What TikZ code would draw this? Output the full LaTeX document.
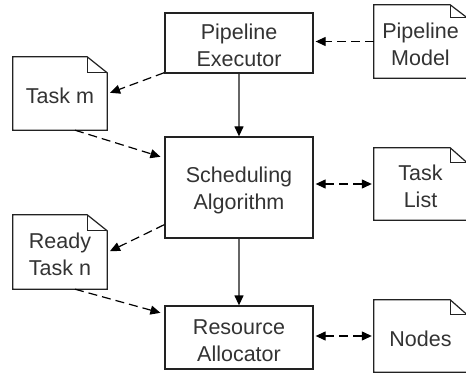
\documentclass[tikz,border=0pt]{standalone}
\usepackage{fontspec}
\setmainfont{Liberation Sans}
\usetikzlibrary{arrows.meta,shadows,calc}

\definecolor{ink}{HTML}{222222}
\definecolor{txt}{HTML}{333333}
\definecolor{flow}{HTML}{666666}

% full-height strut for the first line of each label
\newcommand\leadstrut{\rule{0pt}{21pt}}

\tikzset{
  label font/.style={font=\fontsize{21.5}{27}\selectfont, text=txt, align=center},
  procbox/.style={label font, draw=ink, line width=1.3pt, fill=white,
    inner sep=0pt,
    drop shadow={opacity=0.35, shadow xshift=1.2pt, shadow yshift=-1.2pt}},
  docbox/.style={label font, inner sep=0pt},
  docline/.style={draw=ink, line width=1.2pt, line join=miter},
  tip/.style={-{Triangle[length=10pt,width=9pt,black]}},
  dualtip/.style={{Triangle[length=10pt,width=9pt,black]}-{Triangle[length=10pt,width=9pt,black]}},
  dataflow/.style={black, line width=1.2pt, dash pattern=on 9pt off 5pt, shorten >=2pt},
  controlflow/.style={flow, line width=1.3pt, tip},
}

% folded-corner document outline around a named node:
% #1 node name, #2 fold width, #3 fold height
\newcommand\drawdoc[3]{%
  \draw[docline] (#1.south west) -- (#1.north west)
    -- ([xshift=-#2]#1.north east) -- ([yshift=-#3]#1.north east)
    -- (#1.south east) -- cycle;
  \draw[docline] ([xshift=-#2]#1.north east) |- ([yshift=-#3]#1.north east);
}

\begin{document}
\begin{tikzpicture}[x=1pt,y=-1pt]
  \useasboundingbox (0,0) rectangle (466,374);
  \fill[white] (0,0) rectangle (466,374);
  \clip (0,0) rectangle (466,374);

  % processing components
  \node[procbox, minimum width=148pt, minimum height=60pt] (exec) at (239,43)
    {\leadstrut Pipeline\\Executor};
  \node[procbox, minimum width=148pt, minimum height=101pt] (sched) at (239,187.5)
    {\leadstrut Scheduling\\Algorithm};
  \node[procbox, minimum width=148pt, minimum height=63pt] (alloc) at (239,337.5)
    {\leadstrut Resource\\Allocator};

  % data items
  \node[docbox, minimum width=94pt, minimum height=73pt] (taskm) at (60,93.5)
    {\leadstrut Task m};
  \node[docbox, minimum width=94pt, minimum height=74pt] (ready) at (60,252)
    {\leadstrut Ready\\Task n};
  \node[docbox, minimum width=93pt, minimum height=73pt] (model) at (420.5,41.5)
    {\leadstrut Pipeline\\Model};
  \node[docbox, minimum width=93pt, minimum height=72pt] (tasks) at (420.5,184)
    {\leadstrut Task\\List};
  \node[docbox, minimum width=93pt, minimum height=72pt] (nodes) at (420.5,336)
    {\leadstrut Nodes};
  \drawdoc{taskm}{20pt}{16pt}
  \drawdoc{ready}{20pt}{16pt}
  \drawdoc{model}{17pt}{13pt}
  \drawdoc{tasks}{17pt}{15pt}
  \drawdoc{nodes}{17pt}{15pt}

  % control flow
  \draw[controlflow] (exec.south) -- (sched.north);
  \draw[controlflow] (sched.south) -- (alloc.north);

  % data flow
  \draw[dataflow, tip] (model.west) -- (model.west -| exec.east);
  \draw[dataflow, tip] ([yshift=1pt]exec.south west) -- ([xshift=1pt]taskm.east);
  \draw[dataflow, tip] ([xshift=15pt]taskm.south) -- ([xshift=-2pt,yshift=-21pt]sched.north west);
  \draw[dataflow, dualtip, shorten <=2pt] (sched.east |- tasks.west) -- (tasks.west);
  \draw[dataflow, tip] ([yshift=14pt]sched.south west) -- ([xshift=1pt]ready.east);
  \draw[dataflow, tip] ([xshift=15pt]ready.south) -- ([xshift=-2pt,yshift=-8pt]alloc.north west);
  \draw[dataflow, dualtip, shorten <=2pt] (alloc.east |- nodes.west) -- (nodes.west);
\end{tikzpicture}
\end{document}
